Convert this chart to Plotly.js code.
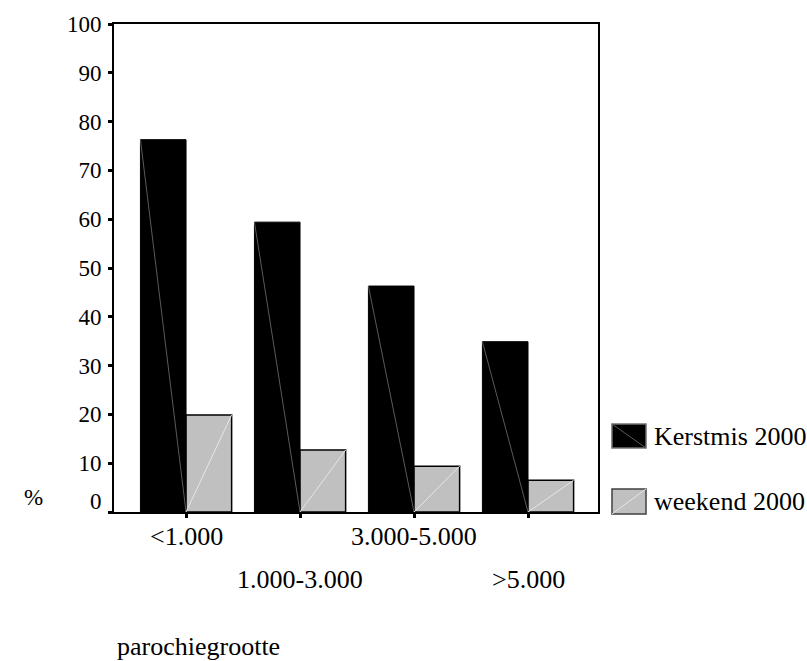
<!DOCTYPE html>
<html>
<head>
<meta charset="utf-8">
<script src="https://cdn.plot.ly/plotly-3.0.1.min.js"></script>
<style>html,body{margin:0;padding:0;background:#fff;}#chart{width:807px;height:661px;}</style>
</head>
<body>
<div id="chart"></div>
<script>
var categories = ['<1.000', '1.000-3.000', '3.000-5.000', '>5.000'];
var kerstmis = [76.3, 59.4, 46.3, 34.9];
var weekend = [19.9, 12.7, 9.4, 6.5];
var seriesNames = ['Kerstmis 2000', 'weekend 2000'];
var yTickVals = [0, 10, 20, 30, 40, 50, 60, 70, 80, 90, 100];
var yTickText = ['', '10', '20', '30', '40', '50', '60', '70', '80', '90', '100'];
var xTitle = 'parochiegrootte';
var yTitle = '%';

var FONT = 'Liberation Serif, Times New Roman, serif';
var TXT = 26;
var TICK = 23;
var idx = categories.map(function (c, i) { return i; });

var traces = [
  {type: 'bar', x: idx, y: kerstmis, name: seriesNames[0], marker: {color: '#000000', line: {color: '#000000', width: 1}}, showlegend: false, hoverinfo: 'skip'},
  {type: 'bar', x: idx, y: weekend, name: seriesNames[1], marker: {color: '#c0c0c0', line: {color: '#000000', width: 1.5}}, showlegend: false, hoverinfo: 'skip'}
];

var shapes = [];
var hw = 0.4;
idx.forEach(function (i) {
  shapes.push({type: 'line', xref: 'x', yref: 'y', x0: i - hw, y0: kerstmis[i], x1: i, y1: 0, line: {color: '#5a5a5a', width: 1}});
  shapes.push({type: 'line', xref: 'x', yref: 'y', x0: i, y0: 0, x1: i + hw, y1: weekend[i], line: {color: '#e6e6e6', width: 1}});
});

// custom legend
var legSw = [
  {y0: 0.1311, y1: 0.1803, fill: '#000000', border: '#707070', diag: '#5a5a5a', down: true},
  {y0: -0.0041, y1: 0.0471, fill: '#c0c0c0', border: '#404040', diag: '#e6e6e6', down: false}
];
var lx0 = 1.0289, lx1 = 1.0992;
legSw.forEach(function (s) {
  shapes.push({type: 'rect', xref: 'paper', yref: 'paper', x0: lx0, x1: lx1, y0: s.y0, y1: s.y1, fillcolor: s.fill, line: {color: s.border, width: 1.5}});
  shapes.push({type: 'line', xref: 'paper', yref: 'paper', x0: lx0, x1: lx1, y0: s.down ? s.y1 : s.y0, y1: s.down ? s.y0 : s.y1, line: {color: s.diag, width: 1}});
});

var annotations = [];
var legTextY = [0.1557, 0.0205];
seriesNames.forEach(function (n, k) {
  annotations.push({xref: 'paper', yref: 'paper', x: 1.1116, y: legTextY[k], xanchor: 'left', yanchor: 'middle', text: n, showarrow: false, font: {family: FONT, size: TXT, color: '#000'}});
});
// staggered x labels
categories.forEach(function (c, i) {
  annotations.push({xref: 'x', yref: 'paper', x: i, y: (i % 2 === 0) ? -0.0512 : -0.1393, xanchor: 'center', yanchor: 'middle', text: c.replace('<', '&lt;').replace('>', '&gt;'), showarrow: false, font: {family: FONT, size: TXT, color: '#000'}});
});
annotations.push({xref: 'paper', yref: 'paper', x: 0.002, y: -0.2766, xanchor: 'left', yanchor: 'middle', text: xTitle, showarrow: false, font: {family: FONT, size: TXT, color: '#000'}});
annotations.push({xref: 'paper', yref: 'paper', x: -0.167, y: 0.0287, xanchor: 'center', yanchor: 'middle', text: yTitle, showarrow: false, font: {family: FONT, size: TICK, color: '#000'}});
annotations.push({xref: 'paper', yref: 'paper', x: -0.0207, y: 0.0205, xanchor: 'right', yanchor: 'middle', text: '0', showarrow: false, font: {family: FONT, size: TICK, color: '#000'}});

var layout = {
  width: 807, height: 661,
  margin: {l: 114, r: 209, t: 24, b: 149, pad: 0},
  paper_bgcolor: '#ffffff', plot_bgcolor: '#ffffff',
  barmode: 'group', bargap: 0.2, bargroupgap: 0,
  showlegend: false,
  font: {family: FONT, size: 20, color: '#000'},
  xaxis: {
    type: 'linear', range: [-0.632, 3.614], tickvals: idx, showticklabels: false,
    ticks: 'outside', ticklen: 4, tickwidth: 3, tickcolor: '#000',
    showgrid: false, zeroline: false, showline: true, linecolor: '#000', linewidth: 2, mirror: true
  },
  yaxis: {
    range: [0, 100], tickvals: yTickVals, ticktext: yTickText,
    ticks: 'outside', ticklen: 4, tickwidth: 3, tickcolor: '#000', ticklabelstandoff: 2,
    tickfont: {family: FONT, size: TICK, color: '#000'},
    showgrid: false, zeroline: false, showline: true, linecolor: '#000', linewidth: 2, mirror: true
  },
  shapes: shapes,
  annotations: annotations
};

Plotly.newPlot('chart', traces, layout, {staticPlot: true, displayModeBar: false});
</script>
</body>
</html>
